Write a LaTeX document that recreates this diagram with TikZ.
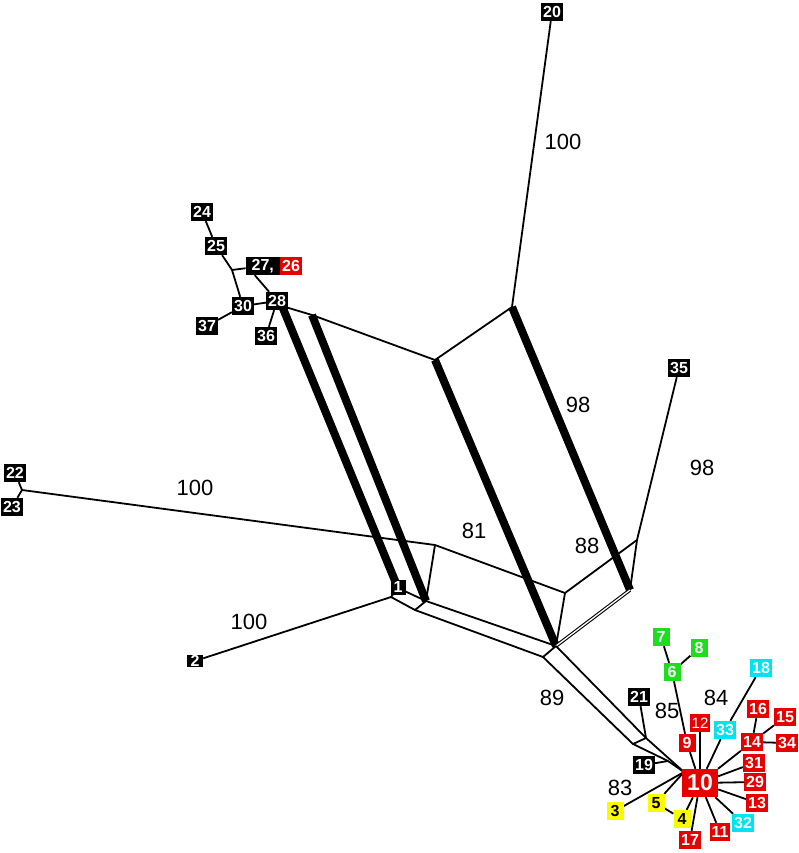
\documentclass[tikz,border=0pt]{standalone}
\usepackage{fontspec}
\setmainfont{Liberation Sans}
\usetikzlibrary{backgrounds}
\definecolor{nred}{RGB}{230,0,0}
\definecolor{ngreen}{RGB}{30,220,30}
\definecolor{ncyan}{RGB}{0,228,240}
\definecolor{nyellow}{RGB}{250,250,0}
\begin{document}
\begin{tikzpicture}[x=1pt,y=-1pt,
  nd/.style={inner xsep=2pt, inner ysep=0pt, minimum width=17pt, minimum height=18pt,
    font=\bfseries\fontsize{16}{16}\selectfont, text=white, fill=black},
  ndred/.style={nd, fill=nred},
  ndgreen/.style={nd, fill=ngreen},
  ndcyan/.style={nd, fill=ncyan},
  ndyellow/.style={nd, fill=nyellow, text=black},
  lbl/.style={font=\fontsize{22}{22}\selectfont, inner sep=0pt},
  edge/.style={line width=1.8pt},
  thk/.style={line width=8pt},
  dbl/.style={line width=1.1pt, double, double distance=1.3pt}
]
\useasboundingbox (0,0) rectangle (798,853);

% ---------- internal vertices
\coordinate (J22) at (22,490);
\coordinate (J25) at (232,270);
\coordinate (A) at (282,306);
\coordinate (B) at (312,315);
\coordinate (C) at (435,360);
\coordinate (D) at (512,307);
\coordinate (V1) at (398,588);
\coordinate (V1b) at (391,597);
\coordinate (R1) at (415,610);
\coordinate (Q) at (426,601);
\coordinate (E) at (435,545);
\coordinate (F) at (565,593);
\coordinate (G) at (637,540);
\coordinate (S) at (556,646);
\coordinate (T) at (630,590);
\coordinate (R2) at (543,657);
\coordinate (W1) at (633,744);
\coordinate (W2) at (646,738);
\coordinate (H1) at (668,761);
\coordinate (H0) at (684,772);

% ---------- taxa
\node[nd] (n20) at (552,12) {20};
\node[nd] (n24) at (202,212) {24};
\node[nd] (n25) at (216,246) {25};
\node[nd, anchor=east, minimum width=34pt] (n27) at (280,266) {27,\hspace{3pt}};
\node[ndred, anchor=west] (n26) at (280,266) {26};
\node[nd] (n28) at (277,301) {28};
\node[nd] (n30) at (243,306) {30};
\node[nd] (n37) at (207,326) {37};
\node[nd] (n36) at (266,336) {36};
\node[nd] (n35) at (679,368) {35};
\node[nd] (n22) at (15,473) {22};
\node[nd] (n23) at (12,507) {23};
\node[nd, minimum width=15pt, minimum height=15pt] (n1) at (398,587) {1};
\node[nd, minimum width=16pt, minimum height=12pt] (n2) at (195,661) {2};

\node[ndgreen] (n7) at (661,637) {7};
\node[ndgreen] (n8) at (699,648) {8};
\node[ndgreen] (n6) at (672,672) {6};
\node[ndcyan] (n18) at (761,668) {18};
\node[nd] (n21) at (639,697) {21};
\node[ndred, font=\fontsize{15}{15}\selectfont] (n12) at (700,723) {12};
\node[ndcyan] (n33) at (725,730) {33};
\node[ndred] (n16) at (758,709) {16};
\node[ndred] (n15) at (785,717) {15};
\node[ndred] (n14) at (752,742) {14};
\node[ndred] (n34) at (787,743) {34};
\node[ndred] (n9) at (687,743) {9};
\node[ndred] (n31) at (754,763) {31};
\node[nd] (n19) at (644,765) {19};
\node[ndred, minimum width=36pt, minimum height=28pt, font=\bfseries\fontsize{23}{23}\selectfont] (n10) at (700,783) {10};
\node[ndred] (n29) at (755,782) {29};
\node[ndred] (n13) at (757,803) {13};
\node[ndyellow] (n3) at (615,811) {3};
\node[ndyellow] (n5) at (656,803) {5};
\node[ndyellow] (n4) at (682,819) {4};
\node[ndcyan] (n32) at (743,823) {32};
\node[ndred] (n11) at (720,832) {11};
\node[ndred] (n17) at (690,840) {17};

% ---------- support labels
\node[lbl] (l1) at (563,142) {100};
\node[lbl] (l2) at (578,405) {98};
\node[lbl] (l3) at (702,468) {98};
\node[lbl] (l4) at (195,488) {100};
\node[lbl] (l5) at (474,531) {81};
\node[lbl] (l6) at (587,546) {88};
\node[lbl] (l7) at (249,622) {100};
\node[lbl] (l8) at (552,698) {89};
\node[lbl] (l9) at (667,711) {85};
\node[lbl] (l10) at (716,698) {84};
\node[lbl] (l11) at (620,788) {83};

% ---------- connectors
\begin{scope}[on background layer]
  % top-left tree
  \draw[edge] (n24) -- (n25);
  \draw[edge] (n25) -- (J25) -- (n30);
  \draw[edge] (J25) -- (n27);
  \coordinate (k27) at ([xshift=-8pt]n27.south);
  \draw[edge] (k27) -- (n28);
  \draw[edge] (n30) -- (n28);
  \draw[edge] (n37) -- (n30);
  \draw[edge] (n36) -- (n28);
  \draw[edge] (n28) -- (A);
  % upper box
  \draw[edge] (A) -- (B) -- (C) -- (D) -- (n20);
  \draw[thk] (A) -- (V1);
  \draw[thk] (B) -- (Q);
  \draw[thk] (C) -- (S);
  \draw[thk] (D) -- (T);
  % left leaves
  \draw[edge] (n22) -- (J22);
  \draw[edge] (n23) -- (J22);
  \draw[edge] (J22) -- (E);
  \draw[edge] (n2) -- (V1b);
  \draw[edge] (V1b) -- (V1) -- (Q);
  % lower box
  \draw[edge] (V1b) -- (R1) -- (Q);
  \draw[edge] (E) -- (Q);
  \draw[edge] (E) -- (F) -- (G);
  \draw[edge] (F) -- (S);
  \draw[edge] (G) -- (T);
  \draw[edge] (G) -- (n35);
  \draw[edge] (Q) -- (S);
  \draw[edge] (R1) -- (R2) -- (S);
  \draw[dbl] (S) -- (T);
  % long branch to cluster
  \draw[edge] (R2) -- (W1) -- (H1) -- (H0);
  \draw[edge] (S) -- (W2) -- (H0);
  \draw[edge] (W1) -- (W2);
  \draw[edge] (n21) -- (W2);
  \draw[edge] (n19) -- (H1);
  \draw[edge] (n3) -- (H0);
  \draw[edge] (n5) -- (H0);
  \draw[edge] (H0) -- (n10);
  % cluster
  \draw[edge] (n7) -- (n6);
  \draw[edge] (n8) -- (n6);
  \draw[edge] (n6) -- (n9) -- (n10);
  \draw[edge] (n12) -- (n10);
  \draw[edge] (n18) -- (n33) -- (n10);
  \draw[edge] (n14) -- (n10);
  \draw[edge] (n16) -- (n14);
  \draw[edge] (n15) -- (n14);
  \draw[edge] (n34) -- (n14);
  \draw[edge] (n31) -- (n10);
  \draw[edge] (n29) -- (n10);
  \draw[edge] (n13) -- (n10);
  \draw[edge] (n32) -- (n10);
  \draw[edge] (n11) -- (n10);
  \draw[edge] (n17) -- (n10);
  \draw[edge] (n4) -- (n10);
  \draw[edge] (n5) -- (n4);
\end{scope}
\end{tikzpicture}
\end{document}
